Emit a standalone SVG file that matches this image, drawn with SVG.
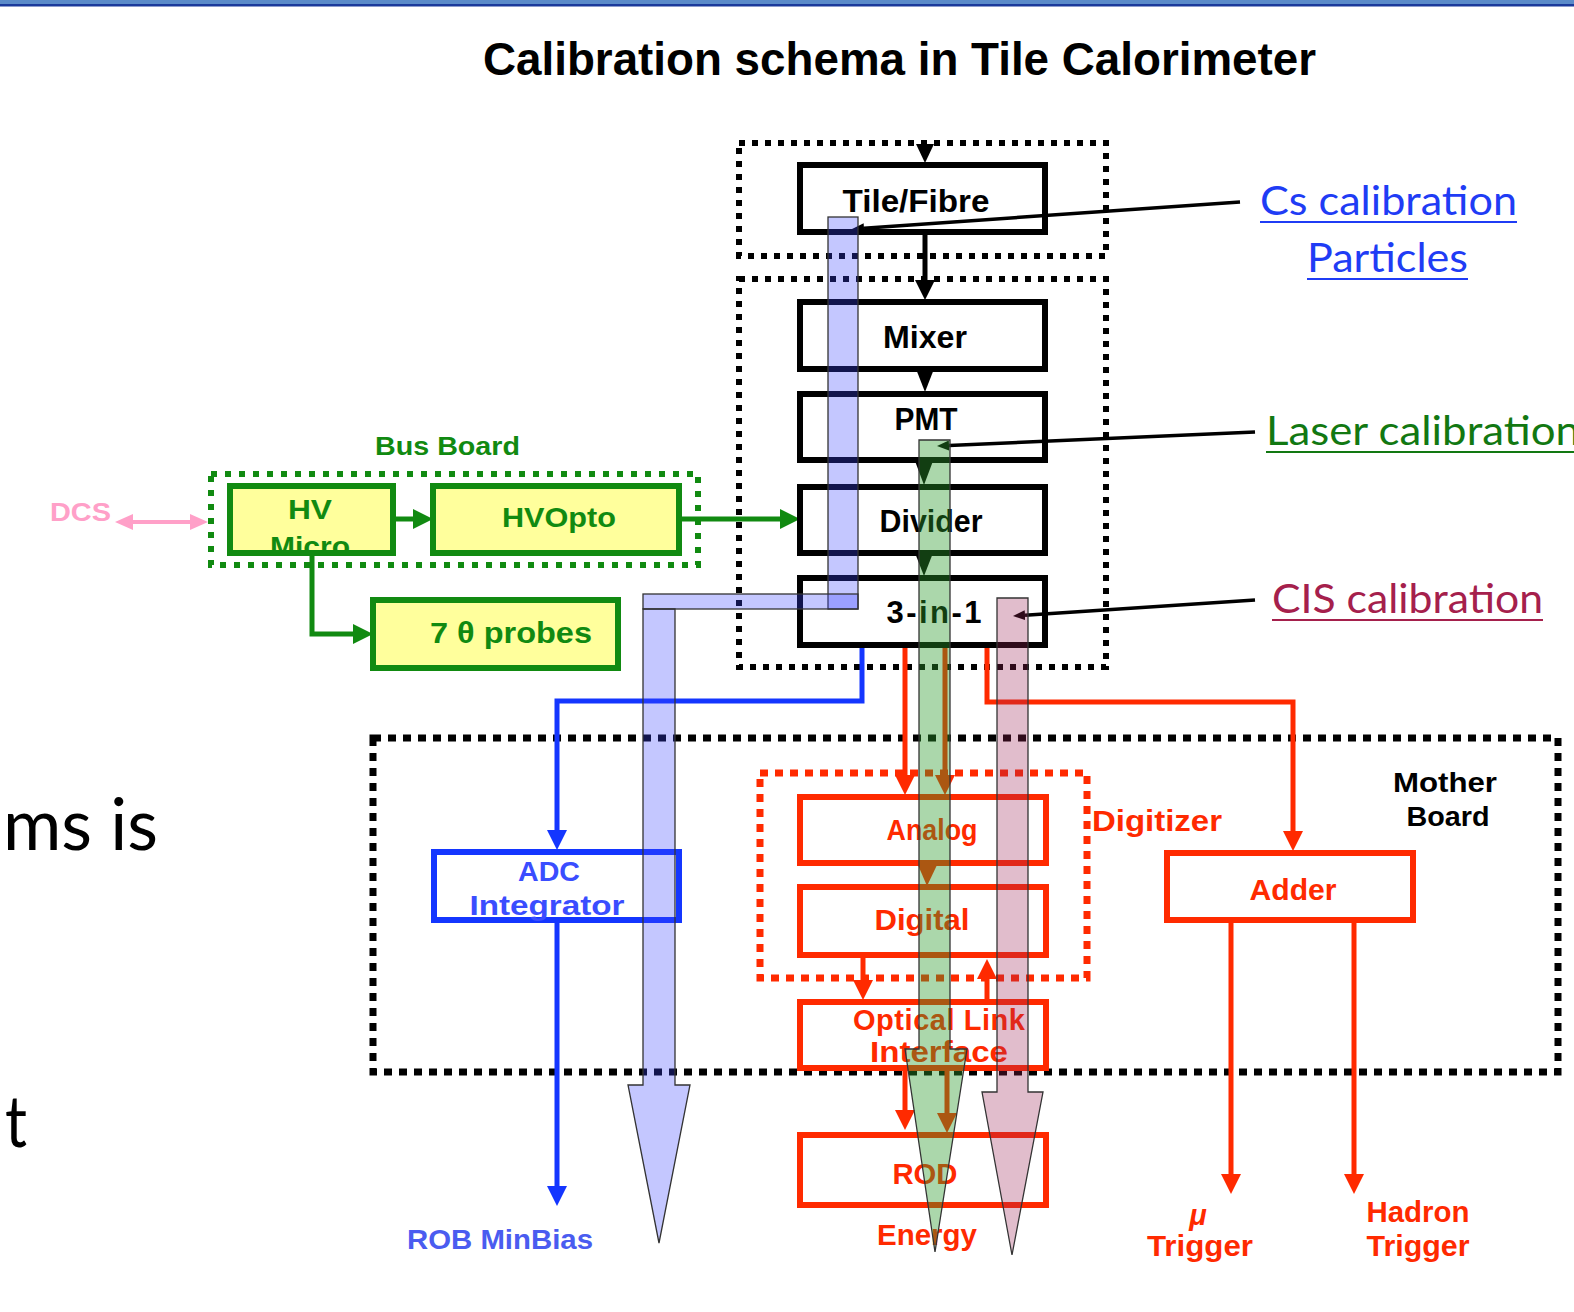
<svg xmlns="http://www.w3.org/2000/svg" width="1574" height="1312" viewBox="0 0 1574 1312">
<style>
.cs{font-family:"Liberation Sans","DejaVu Sans",sans-serif;font-weight:bold}
.cal{font-family:Lato,"Open Sans",sans-serif}
.bx{fill:#fff;stroke:#000;stroke-width:6}
.gbx{fill:#ffff9c;stroke:#118a11;stroke-width:6}
.rbx{fill:#fff;stroke:#ff2a00;stroke-width:6}
.bbx{fill:#fff;stroke:#1436ff;stroke-width:6}
.kdot{fill:none;stroke:#000;stroke-width:6;stroke-dasharray:6 7}
.mdot{fill:none;stroke:#000;stroke-width:7;stroke-dasharray:8 7}
.rdot{fill:none;stroke:#ff2a00;stroke-width:7;stroke-dasharray:8 7}
.gdot{fill:none;stroke:#118a11;stroke-width:6;stroke-dasharray:6 8}
.kl{fill:none;stroke:#000;stroke-width:5}
.kt{fill:none;stroke:#000;stroke-width:3.5}
.gl{fill:none;stroke:#118a11;stroke-width:5}
.rl{fill:none;stroke:#ff2a00;stroke-width:5}
.bl{fill:none;stroke:#1436ff;stroke-width:5}
.pl{fill:none;stroke:#ffa0c8;stroke-width:4}
.bar{stroke:#333;stroke-width:1.3}
</style>
<defs>
<marker id="ak" viewBox="0 0 20 20" refX="0" refY="10" markerWidth="20" markerHeight="20" markerUnits="userSpaceOnUse" orient="auto"><path d="M0,0 L20,10 L0,20 z" fill="#000"/></marker>
<marker id="aks" viewBox="0 0 12 10" refX="0" refY="5" markerWidth="12" markerHeight="10" markerUnits="userSpaceOnUse" orient="auto"><path d="M0,0 L12,5 L0,10 z" fill="#000"/></marker>
<marker id="ag" viewBox="0 0 20 20" refX="0" refY="10" markerWidth="20" markerHeight="20" markerUnits="userSpaceOnUse" orient="auto"><path d="M0,0 L20,10 L0,20 z" fill="#118a11"/></marker>
<marker id="ar" viewBox="0 0 20 20" refX="0" refY="10" markerWidth="20" markerHeight="20" markerUnits="userSpaceOnUse" orient="auto"><path d="M0,0 L20,10 L0,20 z" fill="#ff2a00"/></marker>
<marker id="ab" viewBox="0 0 20 20" refX="0" refY="10" markerWidth="20" markerHeight="20" markerUnits="userSpaceOnUse" orient="auto"><path d="M0,0 L20,10 L0,20 z" fill="#1436ff"/></marker>
<marker id="ap" viewBox="0 0 18 16" refX="0" refY="8" markerWidth="18" markerHeight="16" markerUnits="userSpaceOnUse" orient="auto-start-reverse"><path d="M0,0 L18,8 L0,16 z" fill="#ffa0c8"/></marker>
</defs>
<rect width="1574" height="1312" fill="#fff"/>
<rect x="0" y="0" width="1574" height="4" fill="#5b8bc9"/>
<rect x="0" y="4" width="1574" height="2.5" fill="#1b3a9b"/>

<text class="cs" x="483" y="75" font-size="47" textLength="833" lengthAdjust="spacingAndGlyphs" fill="#000">Calibration schema in Tile Calorimeter</text>

<g id="side-text" class="cal" fill="#000">
<text x="3" y="850" font-size="72" textLength="155" lengthAdjust="spacingAndGlyphs">ms is</text>
<text x="5" y="1147" font-size="72" textLength="22" lengthAdjust="spacingAndGlyphs">t</text>
</g>

<g id="frames">
<rect id="frame-top" class="kdot" x="739" y="143" width="367" height="113"/>
<rect id="frame-pmt" class="kdot" x="739" y="279" width="367" height="388"/>
<rect id="frame-motherboard" class="mdot" x="373" y="738" width="1185" height="334"/>
<rect id="frame-digitizer" class="rdot" x="760" y="773" width="327" height="205"/>
<rect id="frame-busboard" class="gdot" x="211" y="474" width="487" height="91"/>
</g>

<g id="connectors">
<polygon points="916,144 934,144 925,163" fill="#000"/>
<path class="kl" d="M925,235 V280" marker-end="url(#ak)"/>
<polygon points="916,369 934,369 925,392" fill="#000"/>
<polygon points="915,461 933,461 924,485" fill="#000"/>
<polygon points="915,553 933,553 924,576" fill="#000"/>
<path class="gl" d="M393,519 H413" marker-end="url(#ag)"/>
<path class="gl" d="M679,519 H780" marker-end="url(#ag)"/>
<path class="gl" d="M312,553 V634 H353" marker-end="url(#ag)"/>
<path class="pl" d="M133,522 H190" marker-start="url(#ap)" marker-end="url(#ap)"/>
<path class="bl" d="M862,648 V701 H557 V830" marker-end="url(#ab)"/>
<path class="bl" d="M557,922 V1186" marker-end="url(#ab)"/>
<path class="rl" d="M905,648 V775" marker-end="url(#ar)"/>
<path class="rl" d="M945,648 V775" marker-end="url(#ar)"/>
<path class="rl" d="M987,648 V702 H1293 V831" marker-end="url(#ar)"/>
<polygon points="918,865 937,865 927,886" fill="#ff2a00"/>
<path class="rl" d="M863,957 V980" marker-end="url(#ar)"/>
<path class="rl" d="M987,1002 V979" marker-end="url(#ar)"/>
<path class="rl" d="M905,1068 V1110" marker-end="url(#ar)"/>
<path class="rl" d="M947,1068 V1113" marker-end="url(#ar)"/>
<path class="rl" d="M1231,922 V1174" marker-end="url(#ar)"/>
<path class="rl" d="M1354,922 V1174" marker-end="url(#ar)"/>
</g>

<g id="node-tile-fibre"><rect class="bx" x="800" y="165" width="245" height="67"/><text class="cs" x="916" y="212" font-size="31" text-anchor="middle" textLength="147" lengthAdjust="spacingAndGlyphs">Tile/Fibre</text></g>
<g id="node-mixer"><rect class="bx" x="800" y="302" width="245" height="67"/><text class="cs" x="925" y="348" font-size="31" text-anchor="middle" textLength="84" lengthAdjust="spacingAndGlyphs">Mixer</text></g>
<g id="node-pmt"><rect class="bx" x="800" y="394" width="245" height="66"/><text class="cs" x="926" y="430" font-size="31" text-anchor="middle" textLength="63" lengthAdjust="spacingAndGlyphs">PMT</text></g>
<g id="node-divider"><rect class="bx" x="800" y="487" width="245" height="66"/><text class="cs" x="931" y="532" font-size="31" text-anchor="middle" textLength="103" lengthAdjust="spacingAndGlyphs">Divider</text></g>
<g id="node-3in1"><rect class="bx" x="800" y="578" width="245" height="67"/><text class="cs" x="934" y="623" font-size="31" text-anchor="middle" textLength="95" lengthAdjust="spacing">3-in-1</text></g>

<g id="bus-board-label"><text class="cs" x="375" y="455" font-size="26" fill="#118a11" textLength="145" lengthAdjust="spacingAndGlyphs">Bus Board</text></g>
<g id="node-hv-micro"><rect class="gbx" x="230" y="486" width="163" height="67"/><g class="cs" fill="#118a11" font-size="28" text-anchor="middle"><text x="310" y="519" textLength="44" lengthAdjust="spacingAndGlyphs">HV</text><text x="310" y="556" textLength="80" lengthAdjust="spacingAndGlyphs">Micro</text></g></g>
<g id="node-hvopto"><rect class="gbx" x="433" y="486" width="246" height="67"/><text class="cs" x="559" y="527" font-size="28" fill="#118a11" text-anchor="middle" textLength="114" lengthAdjust="spacingAndGlyphs">HVOpto</text></g>
<g id="node-probes"><rect class="gbx" x="373" y="600" width="245" height="68"/><text class="cs" x="430" y="643" font-size="29" fill="#118a11" textLength="162" lengthAdjust="spacingAndGlyphs">7 θ probes</text></g>
<g id="dcs-label"><text class="cs" x="50" y="521" font-size="26" fill="#ffa0c8" textLength="61" lengthAdjust="spacingAndGlyphs">DCS</text></g>

<g id="node-adc"><rect class="bbx" x="434" y="852" width="245" height="68"/><g class="cs" fill="#3a4dff" font-size="27" text-anchor="middle"><text x="549" y="881" textLength="62" lengthAdjust="spacingAndGlyphs">ADC</text><text x="547" y="915" textLength="155" lengthAdjust="spacingAndGlyphs">Integrator</text></g></g>
<g id="rob-label"><text class="cs" x="407" y="1249" font-size="28" fill="#4a5cf0" textLength="186" lengthAdjust="spacingAndGlyphs">ROB MinBias</text></g>

<g class="cs" fill="#ff2a00" font-size="29" text-anchor="middle">
<g id="node-analog"><rect class="rbx" x="800" y="797" width="246" height="66"/><text x="932" y="840" textLength="91" lengthAdjust="spacingAndGlyphs">Analog</text></g>
<g id="node-digital"><rect class="rbx" x="800" y="887" width="246" height="68"/><text x="922" y="930" textLength="95" lengthAdjust="spacingAndGlyphs">Digital</text></g>
<g id="node-optical"><rect class="rbx" x="800" y="1002" width="246" height="66"/><text x="939" y="1030" textLength="172" lengthAdjust="spacing">Optical Link</text><text x="939" y="1062" textLength="138" lengthAdjust="spacingAndGlyphs">Interface</text></g>
<g id="node-rod"><rect class="rbx" x="800" y="1135" width="246" height="70" stroke-width="5"/><text x="925" y="1184" textLength="65" lengthAdjust="spacingAndGlyphs">ROD</text></g>
<g id="node-adder"><rect class="rbx" x="1167" y="853" width="246" height="67"/><text x="1293" y="900" textLength="87" lengthAdjust="spacingAndGlyphs">Adder</text></g>
<text x="927" y="1245" textLength="100" lengthAdjust="spacingAndGlyphs">Energy</text>
<text x="1157" y="831" text-anchor="middle" textLength="130" lengthAdjust="spacingAndGlyphs">Digitizer</text>
<text x="1198" y="1225" font-style="italic">μ</text>
<text x="1200" y="1256" textLength="106" lengthAdjust="spacingAndGlyphs">Trigger</text>
<text x="1418" y="1222" textLength="103" lengthAdjust="spacingAndGlyphs">Hadron</text>
<text x="1418" y="1256" textLength="103" lengthAdjust="spacingAndGlyphs">Trigger</text>
</g>
<g id="mother-board-label" class="cs" fill="#000" font-size="28" text-anchor="middle">
<text x="1445" y="792" textLength="104" lengthAdjust="spacingAndGlyphs">Mother</text>
<text x="1448" y="826" textLength="83" lengthAdjust="spacingAndGlyphs">Board</text>
</g>

<g id="label-pointers">
<path class="kt" d="M1240,202 L864,228.2" marker-end="url(#aks)"/>
<path class="kt" d="M1255,432 L949,445.5" marker-end="url(#aks)"/>
<path class="kt" d="M1255,600 L1025,615.2" marker-end="url(#aks)"/>
</g>

<g id="calibration-paths">
<rect class="bar" x="828" y="217" width="30" height="392" fill="#3a44ff" fill-opacity="0.3"/>
<rect class="bar" x="643" y="594" width="215" height="15" fill="#3a44ff" fill-opacity="0.3"/>
<polygon class="bar" points="643,609 675,609 675,1085 690,1085 659,1243 628,1085 643,1085" fill="#3a44ff" fill-opacity="0.3"/>
<polygon class="bar" points="919,440 950,440 950,1049 967,1049 935,1252 905,1049 919,1049" fill="#2e9a2e" fill-opacity="0.4"/>
<polygon class="bar" points="997,598 1028,598 1028,1092 1043,1092 1012,1255 982,1092 997,1092" fill="#9c2456" fill-opacity="0.3"/>
</g>

<g id="calibration-labels" class="cal" font-size="40">
<text x="1260" y="215" fill="#1f3cf5" textLength="257" lengthAdjust="spacingAndGlyphs">Cs calibration</text>
<rect x="1260" y="221" width="257" height="2" fill="#1f3cf5"/>
<text x="1307" y="272" fill="#1f3cf5" textLength="161" lengthAdjust="spacingAndGlyphs">Particles</text>
<rect x="1307" y="278" width="161" height="2" fill="#1f3cf5"/>
<text x="1266" y="445" fill="#127812" textLength="314" lengthAdjust="spacingAndGlyphs">Laser calibration</text>
<rect x="1266" y="451" width="314" height="2" fill="#127812"/>
<text x="1272" y="613" fill="#a5204c" textLength="271" lengthAdjust="spacingAndGlyphs">CIS calibration</text>
<rect x="1272" y="619" width="271" height="2" fill="#a5204c"/>
</g>
</svg>
